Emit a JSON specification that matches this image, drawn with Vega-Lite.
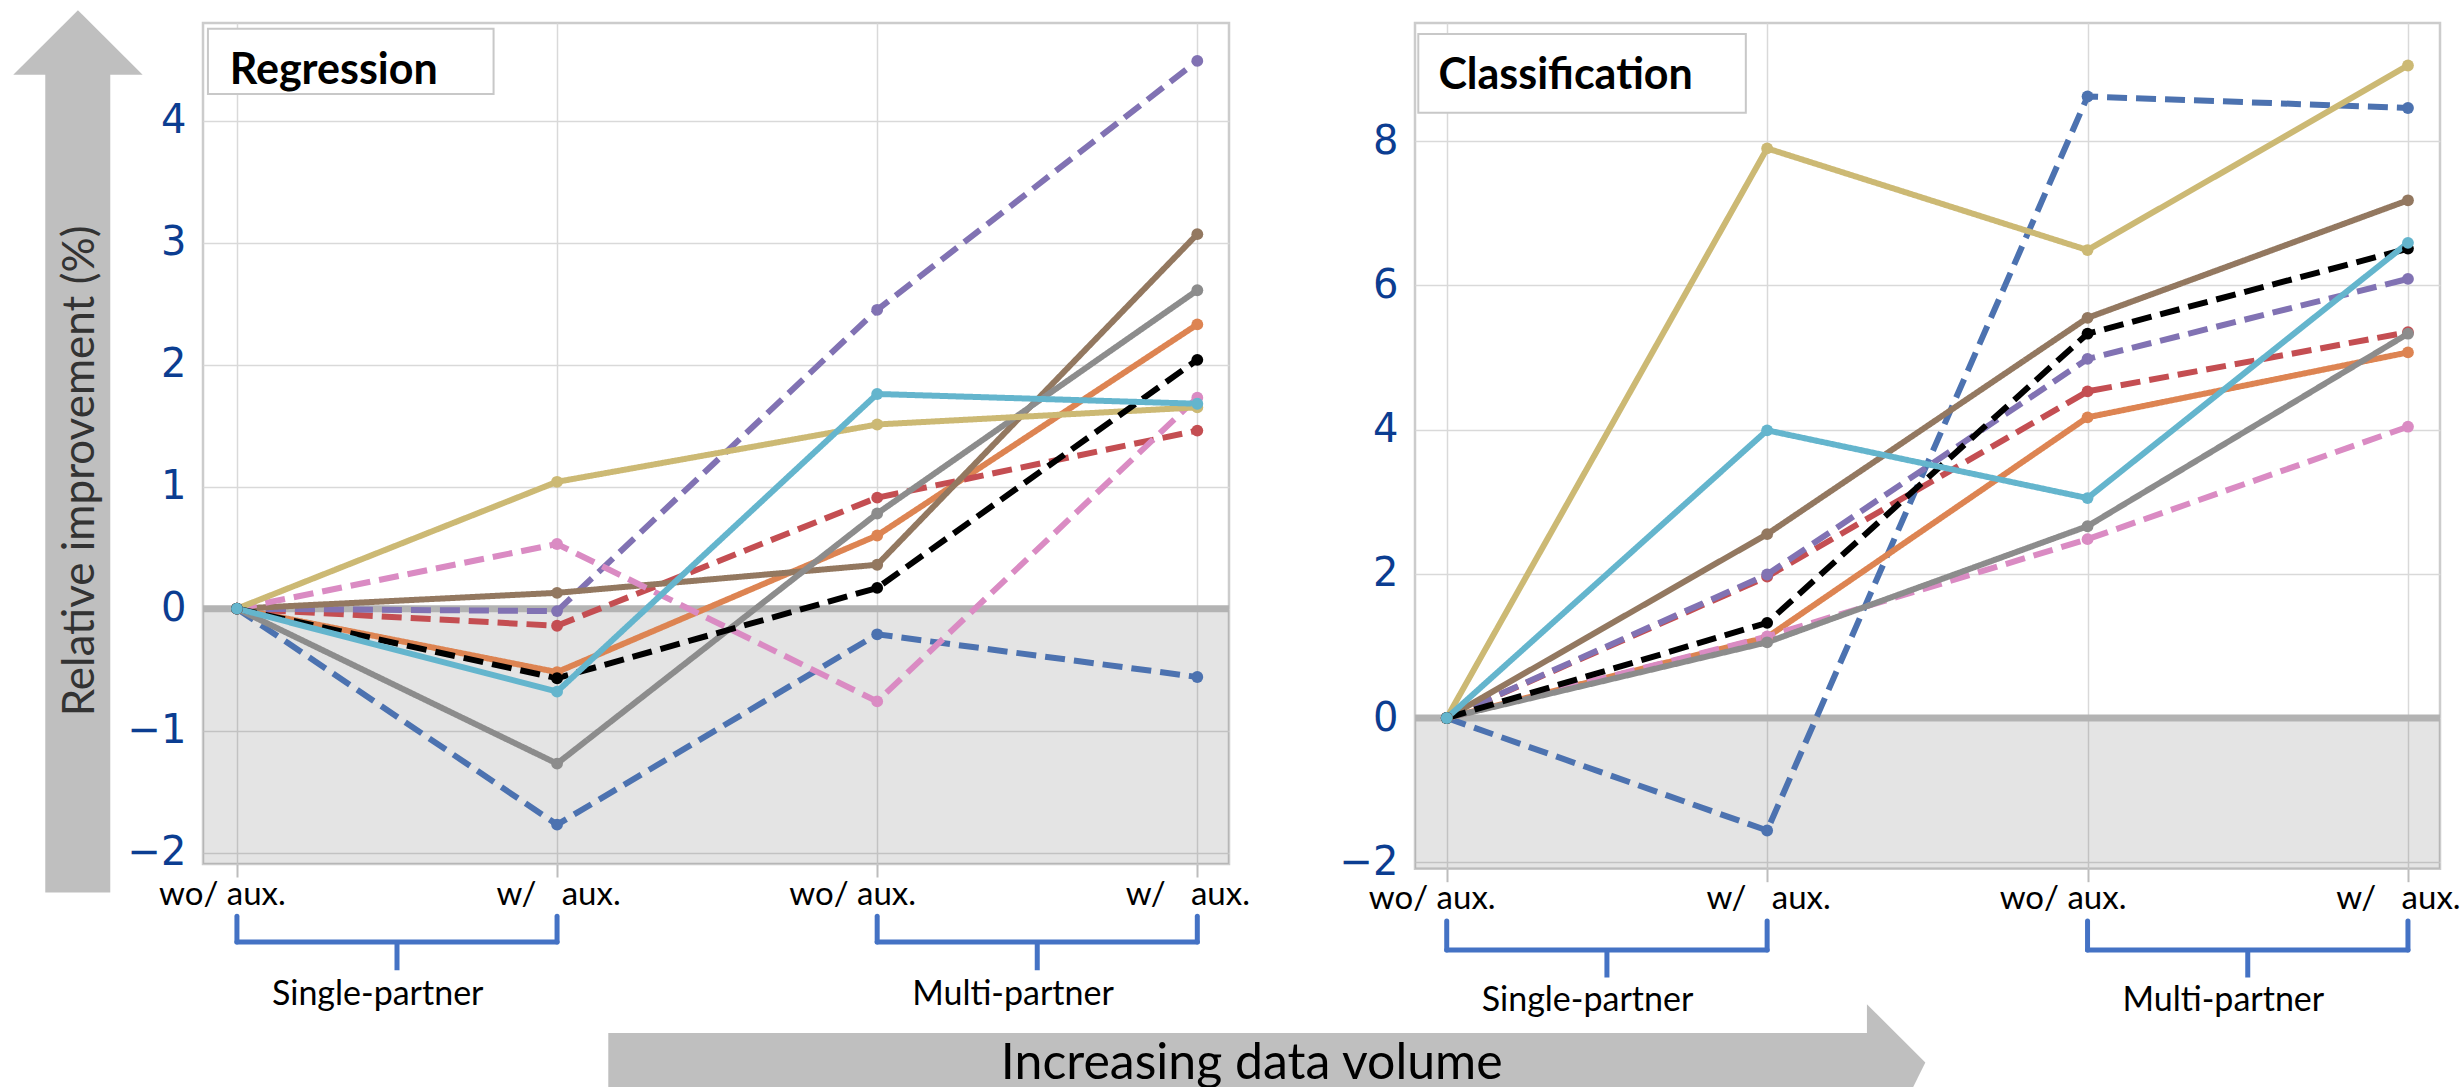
{
  "$schema": "https://vega.github.io/schema/vega-lite/v6.json",
  "padding": {"left": 12, "top": 8, "right": 0, "bottom": 0},
  "bounds": "flush",
  "spacing": 186,
  "background": "white",
  "config": {
    "view": {"stroke": "#cccccc", "strokeWidth": 2.5},
    "axis": {
      "grid": true,
      "gridColor": "#d9d9d9",
      "gridWidth": 1.5,
      "domain": false
    },
    "axisX": {
      "ticks": true,
      "tickColor": "#bdbdbd",
      "tickSize": 13,
      "tickWidth": 2,
      "labelFont": "Lato",
      "labelFontSize": 33,
      "labelColor": "#000000",
      "labelBaseline": "alphabetic",
      "labelPadding": 27,
      "labelFlush": false,
      "labelOverlap": false,
      "title": null
    },
    "axisY": {
      "ticks": false,
      "tickSize": 0,
      "labelFont": "DejaVu Sans",
      "labelFontSize": 40,
      "labelColor": "#0b3d91",
      "labelPadding": 17,
      "labelOverlap": false,
      "format": "d",
      "title": null
    }
  },
  "datasets": {
    "lines": [
      {"task": "Regression", "series": "blue", "step": 0, "value": 0},
      {"task": "Regression", "series": "blue", "step": 1, "value": -1.77},
      {"task": "Regression", "series": "blue", "step": 2, "value": -0.21},
      {"task": "Regression", "series": "blue", "step": 3, "value": -0.56},
      {"task": "Regression", "series": "orange", "step": 0, "value": 0},
      {"task": "Regression", "series": "orange", "step": 1, "value": -0.52},
      {"task": "Regression", "series": "orange", "step": 2, "value": 0.6},
      {"task": "Regression", "series": "orange", "step": 3, "value": 2.33},
      {"task": "Regression", "series": "red", "step": 0, "value": 0},
      {"task": "Regression", "series": "red", "step": 1, "value": -0.14},
      {"task": "Regression", "series": "red", "step": 2, "value": 0.91},
      {"task": "Regression", "series": "red", "step": 3, "value": 1.46},
      {"task": "Regression", "series": "purple", "step": 0, "value": 0},
      {"task": "Regression", "series": "purple", "step": 1, "value": -0.02},
      {"task": "Regression", "series": "purple", "step": 2, "value": 2.45},
      {"task": "Regression", "series": "purple", "step": 3, "value": 4.49},
      {"task": "Regression", "series": "brown", "step": 0, "value": 0},
      {"task": "Regression", "series": "brown", "step": 1, "value": 0.13},
      {"task": "Regression", "series": "brown", "step": 2, "value": 0.36},
      {"task": "Regression", "series": "brown", "step": 3, "value": 3.07},
      {"task": "Regression", "series": "pink", "step": 0, "value": 0},
      {"task": "Regression", "series": "pink", "step": 1, "value": 0.53},
      {"task": "Regression", "series": "pink", "step": 2, "value": -0.76},
      {"task": "Regression", "series": "pink", "step": 3, "value": 1.73},
      {"task": "Regression", "series": "gray", "step": 0, "value": 0},
      {"task": "Regression", "series": "gray", "step": 1, "value": -1.27},
      {"task": "Regression", "series": "gray", "step": 2, "value": 0.78},
      {"task": "Regression", "series": "gray", "step": 3, "value": 2.61},
      {"task": "Regression", "series": "olive", "step": 0, "value": 0},
      {"task": "Regression", "series": "olive", "step": 1, "value": 1.04},
      {"task": "Regression", "series": "olive", "step": 2, "value": 1.51},
      {"task": "Regression", "series": "olive", "step": 3, "value": 1.65},
      {"task": "Regression", "series": "black", "step": 0, "value": 0},
      {"task": "Regression", "series": "black", "step": 1, "value": -0.57},
      {"task": "Regression", "series": "black", "step": 2, "value": 0.17},
      {"task": "Regression", "series": "black", "step": 3, "value": 2.04},
      {"task": "Regression", "series": "cyan", "step": 0, "value": 0},
      {"task": "Regression", "series": "cyan", "step": 1, "value": -0.68},
      {"task": "Regression", "series": "cyan", "step": 2, "value": 1.76},
      {"task": "Regression", "series": "cyan", "step": 3, "value": 1.68},
      {"task": "Classification", "series": "blue", "step": 0, "value": 0},
      {"task": "Classification", "series": "blue", "step": 1, "value": -1.56},
      {"task": "Classification", "series": "blue", "step": 2, "value": 8.62},
      {"task": "Classification", "series": "blue", "step": 3, "value": 8.46},
      {"task": "Classification", "series": "orange", "step": 0, "value": 0},
      {"task": "Classification", "series": "orange", "step": 1, "value": 1.12},
      {"task": "Classification", "series": "orange", "step": 2, "value": 4.17},
      {"task": "Classification", "series": "orange", "step": 3, "value": 5.07},
      {"task": "Classification", "series": "red", "step": 0, "value": 0},
      {"task": "Classification", "series": "red", "step": 1, "value": 1.96},
      {"task": "Classification", "series": "red", "step": 2, "value": 4.53},
      {"task": "Classification", "series": "red", "step": 3, "value": 5.35},
      {"task": "Classification", "series": "purple", "step": 0, "value": 0},
      {"task": "Classification", "series": "purple", "step": 1, "value": 1.99},
      {"task": "Classification", "series": "purple", "step": 2, "value": 4.98},
      {"task": "Classification", "series": "purple", "step": 3, "value": 6.09},
      {"task": "Classification", "series": "brown", "step": 0, "value": 0},
      {"task": "Classification", "series": "brown", "step": 1, "value": 2.55},
      {"task": "Classification", "series": "brown", "step": 2, "value": 5.55},
      {"task": "Classification", "series": "brown", "step": 3, "value": 7.18},
      {"task": "Classification", "series": "pink", "step": 0, "value": 0},
      {"task": "Classification", "series": "pink", "step": 1, "value": 1.13},
      {"task": "Classification", "series": "pink", "step": 2, "value": 2.48},
      {"task": "Classification", "series": "pink", "step": 3, "value": 4.04},
      {"task": "Classification", "series": "gray", "step": 0, "value": 0},
      {"task": "Classification", "series": "gray", "step": 1, "value": 1.05},
      {"task": "Classification", "series": "gray", "step": 2, "value": 2.66},
      {"task": "Classification", "series": "gray", "step": 3, "value": 5.33},
      {"task": "Classification", "series": "olive", "step": 0, "value": 0},
      {"task": "Classification", "series": "olive", "step": 1, "value": 7.9},
      {"task": "Classification", "series": "olive", "step": 2, "value": 6.49},
      {"task": "Classification", "series": "olive", "step": 3, "value": 9.05},
      {"task": "Classification", "series": "black", "step": 0, "value": 0},
      {"task": "Classification", "series": "black", "step": 1, "value": 1.32},
      {"task": "Classification", "series": "black", "step": 2, "value": 5.33},
      {"task": "Classification", "series": "black", "step": 3, "value": 6.51},
      {"task": "Classification", "series": "cyan", "step": 0, "value": 0},
      {"task": "Classification", "series": "cyan", "step": 1, "value": 3.99},
      {"task": "Classification", "series": "cyan", "step": 2, "value": 3.05},
      {"task": "Classification", "series": "cyan", "step": 3, "value": 6.59}
    ],
    "brackets": [
      {"task": "Regression", "label": "Single-partner", "start": 0, "end": 1, "center": 0.5},
      {"task": "Regression", "label": "Multi-partner", "start": 2, "end": 3, "center": 2.5},
      {"task": "Classification", "label": "Single-partner", "start": 0, "end": 1, "center": 0.5},
      {"task": "Classification", "label": "Multi-partner", "start": 2, "end": 3, "center": 2.5}
    ],
    "one": [{}]
  },
  "hconcat": [
    {
      "width": 1026,
      "height": 841,
      "layer": [
        {
          "data": {"name": "one"},
          "mark": {"type": "rect", "color": "#000000", "opacity": 0.105, "clip": false},
          "encoding": {
            "x": {"datum": -0.106, "type": "quantitative"},
            "x2": {"datum": 3.099},
            "y": {"datum": 0, "type": "quantitative"},
            "y2": {"datum": -2.093}
          }
        },
        {
          "data": {"name": "one"},
          "mark": {"type": "rule", "color": "#b3b3b3", "strokeWidth": 7, "clip": false},
          "encoding": {
            "x": {"datum": -0.106, "type": "quantitative"},
            "x2": {"datum": 3.099},
            "y": {"datum": 0, "type": "quantitative"}
          }
        },
        {
          "data": {"name": "lines"},
          "transform": [{"filter": "datum.task === 'Regression'"}],
          "mark": {"type": "line", "strokeWidth": 6, "clip": false},
          "encoding": {
            "x": {"field": "step", "type": "quantitative",
              "scale": {"domain": [-0.106, 3.099], "nice": false, "zero": false},
              "axis": {"values": [0, 1, 2, 3],
                "labelOffset": {"condition": [{"test": "datum.value === 0", "value": -15}, {"test": "datum.value === 1", "value": 1}, {"test": "datum.value === 2", "value": -25}], "value": -10},
                "labelExpr": "datum.value === 0 || datum.value === 2 ? 'wo/ aux.' : 'w/\u00a0\u00a0\u00a0aux.'"}},
            "y": {"field": "value", "type": "quantitative",
              "scale": {"domain": [-2.093, 4.801], "nice": false, "zero": false},
              "axis": {"values": [-2, -1, 0, 1, 2, 3, 4]}},
            "color": {"field": "series", "type": "nominal", "legend": null,
              "scale": {"domain": ["blue", "orange", "red", "purple", "brown", "pink", "gray", "olive", "black", "cyan"],
                "range": ["#4c72b0", "#dd8452", "#c44e52", "#8172b3", "#937860", "#da8bc3", "#8c8c8c", "#ccb974", "#000000", "#64b5cd"]}},
            "strokeDash": {"field": "series", "type": "nominal", "legend": null,
              "scale": {"domain": ["blue", "orange", "red", "purple", "brown", "pink", "gray", "olive", "black", "cyan"],
                "range": [[20, 9], [1, 0], [20, 9], [20, 9], [1, 0], [20, 9], [1, 0], [1, 0], [20, 9], [1, 0]]}}
          }
        },
        {
          "data": {"name": "lines"},
          "transform": [{"filter": "datum.task === 'Regression'"}],
          "mark": {"type": "point", "filled": true, "size": 140, "opacity": 1, "clip": false},
          "encoding": {
            "x": {"field": "step", "type": "quantitative"},
            "y": {"field": "value", "type": "quantitative"},
            "color": {"field": "series", "type": "nominal", "legend": null}
          }
        },
        {
          "data": {"name": "one"},
          "mark": {"type": "rect", "fill": "#ffffff", "stroke": "#c8c8c8", "strokeWidth": 2, "clip": false},
          "encoding": {
            "x": {"datum": -0.0906, "type": "quantitative"},
            "x2": {"datum": 0.8017},
            "y": {"datum": 4.753, "type": "quantitative"},
            "y2": {"datum": 4.22}
          }
        },
        {
          "data": {"name": "one"},
          "mark": {"type": "text", "text": "Regression", "font": "Lato", "fontWeight": "bold", "fontSize": 43, "align": "left", "baseline": "alphabetic", "color": "#000000", "clip": false},
          "encoding": {
            "x": {"datum": -0.0225, "type": "quantitative"},
            "y": {"datum": 4.301, "type": "quantitative"}
          }
        },
        {
          "data": {"name": "one"},
          "mark": {"type": "rect", "color": "#bfbfbf", "clip": false},
          "encoding": {
            "x": {"datum": -0.5987, "type": "quantitative"},
            "x2": {"datum": -0.3957},
            "y": {"datum": 4.4, "type": "quantitative"},
            "y2": {"datum": -2.326}
          }
        },
        {
          "data": {"name": "one"},
          "mark": {"type": "point", "shape": "M-1,0.5L0,-0.5L1,0.5Z", "size": 16744, "filled": true, "color": "#bfbfbf", "opacity": 1, "clip": false},
          "encoding": {
            "x": {"datum": -0.4966, "type": "quantitative"},
            "y": {"datum": 4.641, "type": "quantitative"}
          }
        },
        {
          "data": {"name": "one"},
          "mark": {"type": "text", "text": "Relative improvement (%)", "font": "Lato", "fontSize": 44, "angle": 270, "align": "center", "baseline": "middle", "color": "#333333", "clip": false},
          "encoding": {
            "x": {"datum": -0.487, "type": "quantitative"},
            "y": {"datum": 1.129, "type": "quantitative"}
          }
        },
        {
          "data": {"name": "one"},
          "mark": {"type": "rect", "color": "#bfbfbf", "clip": false},
          "encoding": {
            "x": {"datum": 1.16, "type": "quantitative"},
            "x2": {"datum": 5.095},
            "y": {"datum": -3.478, "type": "quantitative"},
            "y2": {"datum": -3.935}
          }
        },
        {
          "data": {"name": "one"},
          "mark": {"type": "point", "shape": "M-0.5,-1L0.5,0L0.275,0.45L-0.5,0.45Z", "size": 13642, "filled": true, "color": "#bfbfbf", "opacity": 1, "clip": false},
          "encoding": {
            "x": {"datum": 5.183, "type": "quantitative"},
            "y": {"datum": -3.721, "type": "quantitative"}
          }
        },
        {
          "data": {"name": "one"},
          "mark": {"type": "text", "text": "Increasing data volume", "font": "Lato", "fontSize": 50, "align": "center", "baseline": "alphabetic", "color": "#000000", "clip": false},
          "encoding": {
            "x": {"datum": 3.17, "type": "quantitative"},
            "y": {"datum": -3.855, "type": "quantitative"}
          }
        },
        {
          "data": {"name": "brackets"},
          "transform": [{"filter": "datum.task === 'Regression'"}],
          "layer": [
            {
              "mark": {"type": "rule", "color": "#4472c4", "strokeWidth": 5, "strokeCap": "round", "clip": false},
              "encoding": {
                "x": {"field": "start", "type": "quantitative"},
                "x2": {"field": "end"},
                "y": {"datum": -2.732, "type": "quantitative"}
              }
            },
            {
              "mark": {"type": "rule", "color": "#4472c4", "strokeWidth": 5, "strokeCap": "round", "clip": false},
              "encoding": {
                "x": {"field": "start", "type": "quantitative"},
                "y": {"datum": -2.521, "type": "quantitative"},
                "y2": {"datum": -2.732}
              }
            },
            {
              "mark": {"type": "rule", "color": "#4472c4", "strokeWidth": 5, "strokeCap": "round", "clip": false},
              "encoding": {
                "x": {"field": "end", "type": "quantitative"},
                "y": {"datum": -2.521, "type": "quantitative"},
                "y2": {"datum": -2.732}
              }
            },
            {
              "mark": {"type": "rule", "color": "#4472c4", "strokeWidth": 5, "clip": false},
              "encoding": {
                "x": {"field": "center", "type": "quantitative"},
                "y": {"datum": -2.732, "type": "quantitative"},
                "y2": {"datum": -2.964}
              }
            },
            {
              "mark": {"type": "text", "font": "Lato", "fontSize": 34, "align": "left", "baseline": "alphabetic", "dx": 35, "color": "#000000", "clip": false},
              "encoding": {
                "x": {"field": "start", "type": "quantitative"},
                "y": {"datum": -3.251, "type": "quantitative"},
                "text": {"field": "label"}
              }
            }
          ]
        }
      ]
    },
    {
      "width": 1025,
      "height": 845.7,
      "layer": [
        {
          "data": {"name": "one"},
          "mark": {"type": "rect", "color": "#000000", "opacity": 0.105, "clip": false},
          "encoding": {
            "x": {"datum": -0.099, "type": "quantitative"},
            "x2": {"datum": 3.1},
            "y": {"datum": 0, "type": "quantitative"},
            "y2": {"datum": -2.09}
          }
        },
        {
          "data": {"name": "one"},
          "mark": {"type": "rule", "color": "#b3b3b3", "strokeWidth": 7, "clip": false},
          "encoding": {
            "x": {"datum": -0.099, "type": "quantitative"},
            "x2": {"datum": 3.1},
            "y": {"datum": 0, "type": "quantitative"}
          }
        },
        {
          "data": {"name": "lines"},
          "transform": [{"filter": "datum.task === 'Classification'"}],
          "mark": {"type": "line", "strokeWidth": 6, "clip": false},
          "encoding": {
            "x": {"field": "step", "type": "quantitative",
              "scale": {"domain": [-0.099, 3.1], "nice": false, "zero": false},
              "axis": {"values": [0, 1, 2, 3],
                "labelOffset": {"condition": [{"test": "datum.value === 0", "value": -15}, {"test": "datum.value === 1", "value": 1}, {"test": "datum.value === 2", "value": -25}], "value": -10},
                "labelExpr": "datum.value === 0 || datum.value === 2 ? 'wo/ aux.' : 'w/\u00a0\u00a0\u00a0aux.'"}},
            "y": {"field": "value", "type": "quantitative",
              "scale": {"domain": [-2.09, 9.639], "nice": false, "zero": false},
              "axis": {"values": [-2, 0, 2, 4, 6, 8]}},
            "color": {"field": "series", "type": "nominal", "legend": null,
              "scale": {"domain": ["blue", "orange", "red", "purple", "brown", "pink", "gray", "olive", "black", "cyan"],
                "range": ["#4c72b0", "#dd8452", "#c44e52", "#8172b3", "#937860", "#da8bc3", "#8c8c8c", "#ccb974", "#000000", "#64b5cd"]}},
            "strokeDash": {"field": "series", "type": "nominal", "legend": null,
              "scale": {"domain": ["blue", "orange", "red", "purple", "brown", "pink", "gray", "olive", "black", "cyan"],
                "range": [[20, 9], [1, 0], [20, 9], [20, 9], [1, 0], [20, 9], [1, 0], [1, 0], [20, 9], [1, 0]]}}
          }
        },
        {
          "data": {"name": "lines"},
          "transform": [{"filter": "datum.task === 'Classification'"}],
          "mark": {"type": "point", "filled": true, "size": 140, "opacity": 1, "clip": false},
          "encoding": {
            "x": {"field": "step", "type": "quantitative"},
            "y": {"field": "value", "type": "quantitative"},
            "color": {"field": "series", "type": "nominal", "legend": null}
          }
        },
        {
          "data": {"name": "one"},
          "mark": {"type": "rect", "fill": "#ffffff", "stroke": "#c8c8c8", "strokeWidth": 2, "clip": false},
          "encoding": {
            "x": {"datum": -0.0887, "type": "quantitative"},
            "x2": {"datum": 0.9335},
            "y": {"datum": 9.487, "type": "quantitative"},
            "y2": {"datum": 8.395}
          }
        },
        {
          "data": {"name": "one"},
          "mark": {"type": "text", "text": "Classification", "font": "Lato", "fontWeight": "bold", "fontSize": 43, "align": "left", "baseline": "alphabetic", "color": "#000000", "clip": false},
          "encoding": {
            "x": {"datum": -0.026, "type": "quantitative"},
            "y": {"datum": 8.717, "type": "quantitative"}
          }
        },
        {
          "data": {"name": "brackets"},
          "transform": [{"filter": "datum.task === 'Classification'"}],
          "layer": [
            {
              "mark": {"type": "rule", "color": "#4472c4", "strokeWidth": 5, "strokeCap": "round", "clip": false},
              "encoding": {
                "x": {"field": "start", "type": "quantitative"},
                "x2": {"field": "end"},
                "y": {"datum": -3.218, "type": "quantitative"}
              }
            },
            {
              "mark": {"type": "rule", "color": "#4472c4", "strokeWidth": 5, "strokeCap": "round", "clip": false},
              "encoding": {
                "x": {"field": "start", "type": "quantitative"},
                "y": {"datum": -2.816, "type": "quantitative"},
                "y2": {"datum": -3.218}
              }
            },
            {
              "mark": {"type": "rule", "color": "#4472c4", "strokeWidth": 5, "strokeCap": "round", "clip": false},
              "encoding": {
                "x": {"field": "end", "type": "quantitative"},
                "y": {"datum": -2.816, "type": "quantitative"},
                "y2": {"datum": -3.218}
              }
            },
            {
              "mark": {"type": "rule", "color": "#4472c4", "strokeWidth": 5, "clip": false},
              "encoding": {
                "x": {"field": "center", "type": "quantitative"},
                "y": {"datum": -3.218, "type": "quantitative"},
                "y2": {"datum": -3.599}
              }
            },
            {
              "mark": {"type": "text", "font": "Lato", "fontSize": 34, "align": "left", "baseline": "alphabetic", "dx": 35, "color": "#000000", "clip": false},
              "encoding": {
                "x": {"field": "start", "type": "quantitative"},
                "y": {"datum": -4.064, "type": "quantitative"},
                "text": {"field": "label"}
              }
            }
          ]
        }
      ]
    }
  ]
}
